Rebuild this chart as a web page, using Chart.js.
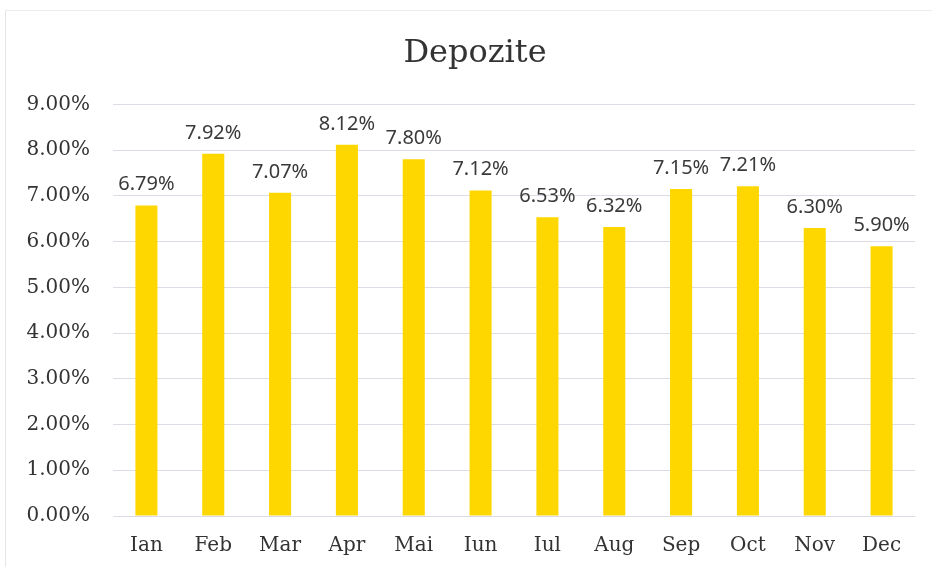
<!DOCTYPE html>
<html>
<head>
<meta charset="utf-8">
<script src="https://cdn.jsdelivr.net/npm/chart.js@4"></script>
<style>
  html, body { margin: 0; padding: 0; background: #fff; }
  #wrap { position: relative; width: 932px; height: 567px; }
  #frame { position: absolute; left: 5px; top: 10px; right: 0; bottom: 0;
           border-left: 1px solid #e4e4ea; border-top: 1px solid #ececf0; pointer-events: none; }
  canvas { position: absolute; left: 0; top: 0; }
</style>
</head>
<body>
<div id="wrap">
  <canvas id="c" width="932" height="567"></canvas>
  <div id="frame"></div>
</div>
<script>
const categories = ["Ian","Feb","Mar","Apr","Mai","Iun","Iul","Aug","Sep","Oct","Nov","Dec"];
const depozite = [6.79, 7.92, 7.07, 8.12, 7.80, 7.12, 6.53, 6.32, 7.15, 7.21, 6.30, 5.90];
const yTicks = [0,1,2,3,4,5,6,7,8,9];
const chartTitle = "Depozite";

const valueLabels = {
  id: 'valueLabels',
  afterDatasetsDraw(chart) {
    const ctx = chart.ctx;
    const meta = chart.getDatasetMeta(0);
    ctx.save();
    ctx.font = '20px "Noto Sans", "Open Sans", sans-serif';
    ctx.fillStyle = '#3a3a3a';
    ctx.textAlign = 'center';
    ctx.textBaseline = 'alphabetic';
    meta.data.forEach((bar, i) => {
      const v = chart.data.datasets[0].data[i];
      ctx.fillText(v.toFixed(2) + '%', bar.x, bar.y - 15);
    });
    ctx.restore();
  }
};

const shiftTitle = {
  id: 'shiftTitle',
  afterLayout(chart) {
    const t = chart.titleBlock;
    if (t) { t.left = 35; t.width = t.right - t.left; }
  }
};

new Chart(document.getElementById('c'), {
  type: 'bar',
  data: {
    labels: categories,
    datasets: [{
      data: depozite,
      backgroundColor: '#FFD700',
      borderWidth: 0,
      barPercentage: 0.66,
      categoryPercentage: 0.5
    }]
  },
  options: {
    responsive: false,
    animation: false,
    devicePixelRatio: 1,
    layout: { padding: { left: 0, right: 17, top: 0, bottom: 0 } },
    plugins: {
      legend: { display: false },
      tooltip: { enabled: false },
      title: {
        display: true,
        text: chartTitle,
        color: '#333333',
        font: { family: '"DejaVu Serif", serif', size: 32, weight: 'normal', lineHeight: 1.2 },
        padding: { top: 34, bottom: 32 }
      }
    },
    scales: {
      x: {
        grid: { display: false, drawTicks: false },
        border: { display: false },
        ticks: {
          color: '#333333',
          font: { family: '"DejaVu Serif", serif', size: 20 },
          padding: 18
        },
        afterFit(scale) { scale.height = 51; }
      },
      y: {
        min: 0, max: 9,
        afterBuildTicks(scale) { scale.ticks = yTicks.map(v => ({ value: v })); },
        grid: { color: '#dcdce4', lineWidth: 1, drawTicks: false },
        border: { display: false },
        ticks: {
          color: '#333333',
          font: { family: '"DejaVu Serif", serif', size: 20 },
          padding: 23,
          callback: v => Number(v).toFixed(2) + '%'
        },
        afterFit(scale) { scale.width = 113; }
      }
    }
  },
  plugins: [valueLabels, shiftTitle]
});
</script>
</body>
</html>
